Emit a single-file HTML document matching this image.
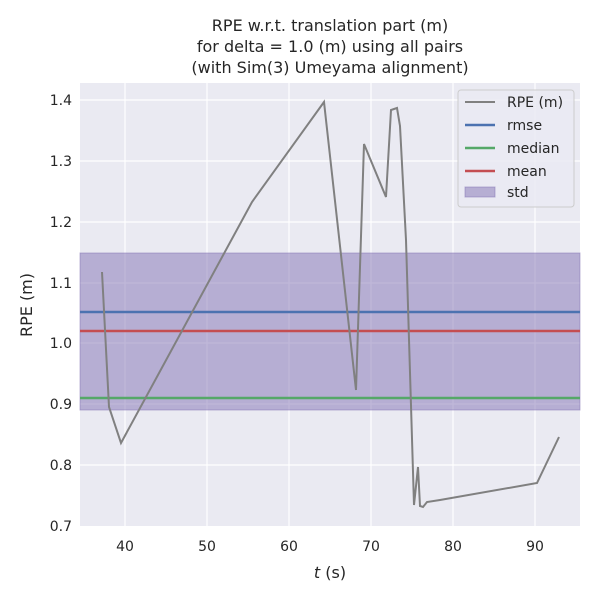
<!DOCTYPE html>
<html><head><style>body{margin:0;background:#fff}</style></head><body>
<svg width="600" height="600" xmlns="http://www.w3.org/2000/svg" font-family="DejaVu Sans, Liberation Sans, sans-serif">
<rect x="80" y="83" width="500" height="443" fill="#eaeaf2"/>
<g stroke="#fff" stroke-width="1.2">
<line x1="80" x2="580" y1="100" y2="100"/><line x1="80" x2="580" y1="161" y2="161"/><line x1="80" x2="580" y1="222" y2="222"/><line x1="80" x2="580" y1="283" y2="283"/><line x1="80" x2="580" y1="343" y2="343"/><line x1="80" x2="580" y1="404" y2="404"/><line x1="80" x2="580" y1="465" y2="465"/>
<line y1="83" y2="526" x1="125" x2="125"/><line y1="83" y2="526" x1="207" x2="207"/><line y1="83" y2="526" x1="289" x2="289"/><line y1="83" y2="526" x1="371" x2="371"/><line y1="83" y2="526" x1="453" x2="453"/><line y1="83" y2="526" x1="535" x2="535"/>
</g>
<rect x="80" y="253" width="500" height="157" fill="#8172b3" fill-opacity="0.5" stroke="#8172b3" stroke-opacity="0.5"/>
<line x1="80" x2="580" y1="312" y2="312" stroke="#4c72b0" stroke-width="2.5"/>
<line x1="80" x2="580" y1="331" y2="331" stroke="#c44e52" stroke-width="2.5"/>
<line x1="80" x2="580" y1="398" y2="398" stroke="#55a868" stroke-width="2.5"/>
<polyline fill="none" stroke="#808080" stroke-width="2" points="102,272 109,407 121,443 252,202 324,102 356,390 364,144 386,197 391,110 397,108 400,126 406,240 414,505 418,467 420,506 423,507 427,502 440,500 537,483 559,437"/>
<g font-size="14" fill="#262626" text-anchor="end">
<text x="72" y="105">1.4</text><text x="72" y="166">1.3</text><text x="72" y="227">1.2</text><text x="72" y="288">1.1</text><text x="72" y="348">1.0</text><text x="72" y="409">0.9</text><text x="72" y="470">0.8</text><text x="72" y="531">0.7</text>
</g>
<g font-size="14" fill="#262626" text-anchor="middle">
<text x="125" y="551">40</text><text x="207" y="551">50</text><text x="289" y="551">60</text><text x="371" y="551">70</text><text x="453" y="551">80</text><text x="535" y="551">90</text>
<text x="330" y="578" font-size="16"><tspan font-style="italic">t</tspan> (s)</text>
<text x="330" y="31" font-size="16">RPE w.r.t. translation part (m)</text>
<text x="330" y="52" font-size="16">for delta = 1.0 (m) using all pairs</text>
<text x="330" y="73" font-size="16">(with Sim(3) Umeyama alignment)</text>
</g>
<text transform="translate(32,305) rotate(-90)" font-size="16" fill="#262626" text-anchor="middle">RPE (m)</text>
<rect x="458" y="90" width="116" height="117" rx="3" fill="#eaeaf2" fill-opacity="0.8" stroke="#ccc"/>
<g font-size="14" fill="#262626">
<line x1="465" x2="495" y1="102" y2="102" stroke="#808080" stroke-width="2"/><text x="507" y="107">RPE (m)</text>
<line x1="465" x2="495" y1="125" y2="125" stroke="#4c72b0" stroke-width="2.5"/><text x="507" y="130">rmse</text>
<line x1="465" x2="495" y1="148" y2="148" stroke="#55a868" stroke-width="2.5"/><text x="507" y="153">median</text>
<line x1="465" x2="495" y1="171" y2="171" stroke="#c44e52" stroke-width="2.5"/><text x="507" y="176">mean</text>
<rect x="465" y="187" width="30" height="10" fill="#8172b3" fill-opacity="0.5" stroke="#8172b3" stroke-opacity="0.5"/><text x="507" y="197">std</text>
</g>
</svg>
</body></html>
